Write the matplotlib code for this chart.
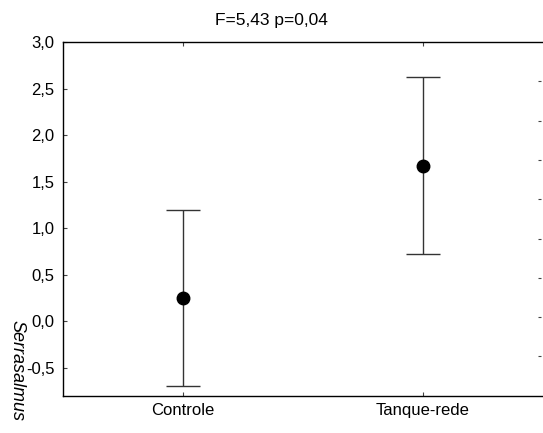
import matplotlib.pyplot as plt
import matplotlib

matplotlib.rcParams['font.family'] = ['Liberation Sans', 'DejaVu Sans']

# médias e intervalos por tratamento
grupos = ['Controle', 'Tanque-rede']
media = [0.25, 1.67]
lim_inf = [-0.70, 0.72]
lim_sup = [1.20, 2.62]
titulo = 'F=5,43 p=0,04'
yticks = [-0.5, 0.0, 0.5, 1.0, 1.5, 2.0, 2.5, 3.0]

W, H = 543, 433
fig = plt.figure(figsize=(W / 100, H / 100), dpi=100)
ax = fig.add_axes([63 / W, 1 - 395.7 / H, (W - 63) / W, (395.7 - 42) / H])

x = list(range(len(grupos)))
err = [[m - lo for m, lo in zip(media, lim_inf)],
       [hi - m for m, hi in zip(media, lim_sup)]]
ax.errorbar(x, media, yerr=err, fmt='o', color='black', ecolor='#333333',
            elinewidth=1, capsize=12, capthick=1, markersize=9)

ax.set_xlim(-0.5, 1.5)
ax.set_ylim(-0.8, 3.0)
ax.set_xticks(x)
ax.set_xticklabels(grupos, fontsize=12)
ax.set_yticks(yticks)
ax.set_yticklabels([f'{v:.1f}'.replace('.', ',') for v in yticks], fontsize=12)
ax.tick_params(direction='in', length=3, width=0.8, top=True, color='#444444')
ax.tick_params(axis='y', pad=6)
ax.tick_params(axis='x', pad=5)
ax.spines['right'].set_visible(False)
for s in ['left', 'top', 'bottom']:
    ax.spines[s].set_linewidth(1)

fig.text(0.5, 1 - 21 / H, titulo, ha='center', va='center', fontsize=12.5)
fig.text(17 / W, 1 - 320 / H, 'Serrasalmus', rotation=270, style='italic',
         ha='center', va='top', fontsize=13)

# marcas do painel vizinho na borda direita
ax2 = fig.add_axes([541 / W, 1 - 395.7 / H, 2 / W, (395.7 - 42) / H])
ax2.set_ylim(0, 9)
ax2.set_yticks(range(1, 9))
ax2.set_yticklabels([])
ax2.set_xticks([])
ax2.tick_params(axis='y', direction='out', length=2.5, width=0.8, color='#444444')
for s in ax2.spines.values():
    s.set_visible(False)
ax2.patch.set_visible(False)

fig.savefig('out.png', dpi=100)
